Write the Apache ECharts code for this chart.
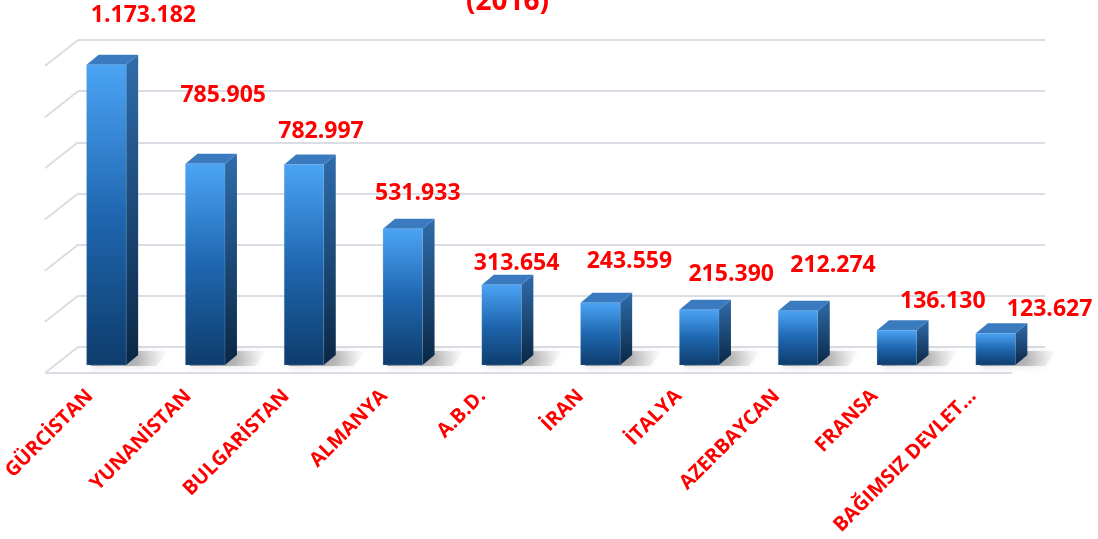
<!DOCTYPE html>
<html>
<head>
<meta charset="utf-8">
<script src="https://cdn.jsdelivr.net/npm/echarts@6/dist/echarts.min.js"></script>
<style>
html,body{margin:0;padding:0;background:#fff;}
#c{width:1098px;height:539px;}
</style>
</head>
<body>
<div id="c"></div>
<script>
// ---- data ----
const titleText = '(2016)';
const categories = ['GÜRCİSTAN', 'YUNANİSTAN', 'BULGARİSTAN', 'ALMANYA', 'A.B.D.', 'İRAN', 'İTALYA', 'AZERBAYCAN', 'FRANSA', 'BAĞIMSIZ DEVLET...'];
const values = [1173182, 785905, 782997, 531933, 313654, 243559, 215390, 212274, 136130, 123627];
const gridTicks = [0, 200000, 400000, 600000, 800000, 1000000, 1200000];

// ---- layout / style (not data) ----
const axisMax = 1200000, axisStep = 200000;
const labelNudge = [[37, -49], [18, -68], [17, -33], [15, -35], [15, -21], [29, -41], [32, -35], [35, -45], [46, -29], [54, -24]];
const depth = [12, -10];      // bar depth offset
const wallDepth = [-33, 26];  // back wall -> front floor offset
const RED = '#ff0000';
const FONT = '"Open Sans", "Noto Sans", sans-serif';
const gridLineColor = '#dadde3';

function fmt(v) { return String(v).replace(/\B(?=(\d{3})+(?!\d))/g, '.'); }

const chart = echarts.init(document.getElementById('c'), null, {renderer: 'canvas'});

const option = {
  backgroundColor: '#ffffff',
  animation: false,
  title: {
    text: titleText,
    left: 461,
    top: -17,
    textStyle: {color: RED, fontSize: 28, fontWeight: 'bold', fontFamily: FONT}
  },
  grid: [
    {left: 78, right: 53, top: 40, bottom: 192},      // back wall
    {left: 57, right: 53, top: 57.8, bottom: 174},    // bars plane
    {left: 34, right: 76, top: 300, bottom: 166}      // front floor (labels)
  ],
  xAxis: [
    {gridIndex: 0, type: 'value', min: 0, max: 1, show: false},
    {gridIndex: 1, type: 'category', data: categories, show: false},
    {gridIndex: 2, type: 'category', data: categories,
      axisLine: {show: false}, axisTick: {show: false},
      axisLabel: {rotate: 45, margin: 20, interval: 0, color: RED, fontSize: 20, fontWeight: 'bold', fontFamily: FONT}}
  ],
  yAxis: [
    {gridIndex: 0, type: 'value', min: 0, max: axisMax, interval: axisStep,
      axisLabel: {show: false}, axisLine: {show: false}, axisTick: {show: false},
      splitLine: {show: true, lineStyle: {color: gridLineColor, width: 2}}},
    {gridIndex: 1, type: 'value', min: 0, max: axisMax, interval: axisStep, show: false, splitLine: {show: false}},
    {gridIndex: 2, type: 'value', show: false, splitLine: {show: false}}
  ],
  series: [
    {
      type: 'custom', xAxisIndex: 0, yAxisIndex: 0, z: 1, silent: true,
      data: gridTicks.map(v => [0, v]),
      encode: {x: 0, y: 1},
      renderItem: function (params, api) {
        const v = api.value(1);
        const p = api.coord([0, v]);
        const children = [{
          type: 'line',
          shape: {x1: p[0], y1: p[1], x2: p[0] + wallDepth[0], y2: p[1] + wallDepth[1]},
          style: {stroke: gridLineColor, lineWidth: 2}
        }];
        if (v === 0) {
          const q = api.coord([1, 0]);
          children.push({
            type: 'line',
            shape: {x1: p[0] + wallDepth[0], y1: p[1] + wallDepth[1], x2: q[0] + wallDepth[0], y2: q[1] + wallDepth[1]},
            style: {stroke: gridLineColor, lineWidth: 2}
          });
        }
        return {type: 'group', children: children};
      }
    },
    {
      type: 'custom', xAxisIndex: 1, yAxisIndex: 1, z: 3,
      data: values.map((v, i) => [i, v]),
      encode: {x: 0, y: 1},
      renderItem: function (params, api) {
        const i = api.value(0), v = api.value(1);
        const top = api.coord([i, v]);
        const base = api.coord([i, 0]);
        const w = api.size([1, 0])[0] * 0.4;
        const x0 = top[0] - w / 2, x1 = top[0] + w / 2;
        const dx = depth[0], dy = depth[1];
        const nudge = labelNudge[i];
        return {
          type: 'group',
          children: [
            { // floor shadow
              type: 'polygon', z2: 0,
              shape: {points: [[x0 + 4, base[1] + 1], [x1 + 30, base[1] + 1], [x1 + 30 + dx, base[1] + dy - 4], [x0 + dx + 4, base[1] + dy - 4]]},
              style: {fill: {type: 'linear', x: 0, y: 0, x2: 1, y2: 0,
                colorStops: [{offset: 0, color: 'rgba(60,60,60,0.55)'}, {offset: 0.6, color: 'rgba(90,90,90,0.35)'}, {offset: 1, color: 'rgba(150,150,150,0)'}]},
                shadowBlur: 8, shadowColor: 'rgba(80,80,80,0.5)'}
            },
            { // side face
              type: 'polygon', z2: 1,
              shape: {points: [[x1, top[1]], [x1 + dx, top[1] + dy], [x1 + dx, base[1] + dy], [x1, base[1]]]},
              style: {fill: {type: 'linear', x: 0, y: 0, x2: 0, y2: 1,
                colorStops: [{offset: 0, color: '#2f6cab'}, {offset: 1, color: '#0a2744'}]}}
            },
            { // top face
              type: 'polygon', z2: 1,
              shape: {points: [[x0, top[1]], [x0 + dx, top[1] + dy], [x1 + dx, top[1] + dy], [x1, top[1]]]},
              style: {fill: '#3a7bbf'}
            },
            { // front face
              type: 'rect', z2: 2,
              shape: {x: x0, y: top[1], width: w, height: base[1] - top[1]},
              style: {fill: {type: 'linear', x: 0, y: 0, x2: 0, y2: 1,
                colorStops: [{offset: 0, color: '#4ca4f5'}, {offset: 0.5, color: '#1f67b0'}, {offset: 1, color: '#0e3c6c'}]},
                stroke: 'rgba(120,170,220,0.5)', lineWidth: 0.5}
            },
            { // value label
              type: 'text', z2: 5,
              style: {
                text: fmt(v), x: top[0] + nudge[0], y: top[1] + nudge[1],
                fill: RED, fontSize: 23, fontWeight: 'bold', fontFamily: FONT,
                align: 'center', verticalAlign: 'middle'
              }
            }
          ]
        };
      }
    }
  ]
};
chart.setOption(option);
</script>
</body>
</html>
